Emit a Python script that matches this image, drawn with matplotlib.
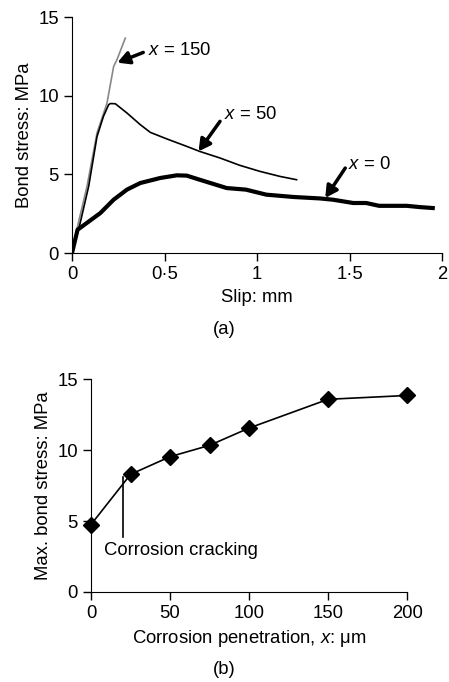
import matplotlib
matplotlib.use("Agg")
import matplotlib.pyplot as plt

plt.rcParams['font.family'] = ['Liberation Sans', 'DejaVu Sans']
plt.rcParams['mathtext.fontset'] = 'custom'
plt.rcParams['mathtext.rm'] = 'Liberation Sans'
plt.rcParams['mathtext.it'] = 'Liberation Sans:italic'

# (a) bond stress vs slip
slip_x0 = [0, 0.03, 0.153, 0.225, 0.297, 0.369, 0.477, 0.567, 0.62, 0.69, 0.836,
           0.94, 1.05, 1.2, 1.34, 1.41, 1.52, 1.59, 1.66, 1.81, 1.88, 1.95]
stress_x0 = [0, 1.48, 2.54, 3.39, 4.03, 4.45, 4.77, 4.94, 4.92, 4.66, 4.13,
             4.03, 3.71, 3.56, 3.47, 3.39, 3.18, 3.18, 3.0, 3.0, 2.92, 2.86]

slip_x50 = [0, 0.04, 0.09, 0.135, 0.17, 0.198, 0.207, 0.234, 0.297, 0.369, 0.423,
            0.513, 0.62, 0.69, 0.8, 0.908, 1.016, 1.124, 1.214]
stress_x50 = [0, 1.7, 4.24, 7.4, 8.69, 9.43, 9.5, 9.49, 8.9, 8.16, 7.67,
              7.25, 6.78, 6.46, 6.04, 5.57, 5.19, 4.87, 4.66]

slip_x150 = [0, 0.03, 0.081, 0.135, 0.189, 0.225, 0.243, 0.288]
stress_x150 = [0, 1.7, 4.24, 7.63, 9.53, 11.86, 12.29, 13.66]

# (b) max bond stress vs corrosion penetration
penetration = [0, 25, 50, 75, 100, 150, 200]
max_stress = [4.76, 8.3, 9.55, 10.35, 11.57, 13.6, 13.87]

FS = 13.3


def style_axes(ax):
    ax.spines['top'].set_visible(False)
    ax.spines['right'].set_visible(False)
    ax.tick_params(direction='out', length=6, width=1, labelsize=FS)


fig = plt.figure(figsize=(4.49, 6.82), dpi=100)

# ---- (a)
ax1 = fig.add_axes([0.1604, 0.629, 0.824, 0.346])
ax1.plot(slip_x150, stress_x150, color='#888888', lw=1.2)
ax1.plot(slip_x50, stress_x50, color='black', lw=1.2)
ax1.plot(slip_x0, stress_x0, color='black', lw=3)
ax1.set_xlim(0, 2)
ax1.set_ylim(0, 15)
ax1.set_xticks([0, 0.5, 1, 1.5, 2])
ax1.set_xticklabels(['0', '0·5', '1', '1·5', '2'])
ax1.set_yticks([0, 5, 10, 15])
ax1.set_xlabel('Slip: mm', fontsize=FS)
ax1.set_ylabel('Bond stress: MPa', fontsize=FS)
style_axes(ax1)

arrow = dict(arrowstyle='-|>,head_length=0.7,head_width=0.38', lw=2.5,
             color='black', shrinkA=0, shrinkB=0)
ax1.text(0.41, 12.9, '$x$ = 150', fontsize=FS, va='center')
ax1.annotate('', xy=(0.245, 12.1), xytext=(0.385, 12.75), arrowprops=arrow)
ax1.text(0.82, 8.8, '$x$ = 50', fontsize=FS, va='center')
ax1.annotate('', xy=(0.684, 6.46), xytext=(0.80, 8.37), arrowprops=arrow)
ax1.text(1.494, 5.6, '$x$ = 0', fontsize=FS, va='center')
ax1.annotate('', xy=(1.369, 3.5), xytext=(1.477, 5.4), arrowprops=arrow)

fig.text(0.5, 1 - 330 / 682, '(a)', fontsize=FS, ha='center', va='center')

# ---- (b)
ax2 = fig.add_axes([0.2027, 0.132, 0.704, 0.3116])
ax2.plot(penetration, max_stress, color='black', lw=1.2, marker='D',
         markersize=8.5, clip_on=False)
ax2.plot([20, 20], [3.9, 8.1], color='black', lw=1.2)
ax2.text(8.4, 2.94, 'Corrosion cracking', fontsize=FS, va='center')
ax2.set_xlim(0, 200)
ax2.set_ylim(0, 15)
ax2.set_xticks([0, 50, 100, 150, 200])
ax2.set_yticks([0, 5, 10, 15])
ax2.set_xlabel('Corrosion penetration, $x$: μm', fontsize=FS)
ax2.set_ylabel('Max. bond stress: MPa', fontsize=FS)
style_axes(ax2)

fig.text(0.5, 1 - 670 / 682, '(b)', fontsize=FS, ha='center', va='center')

plt.savefig('out.png', dpi=100)
